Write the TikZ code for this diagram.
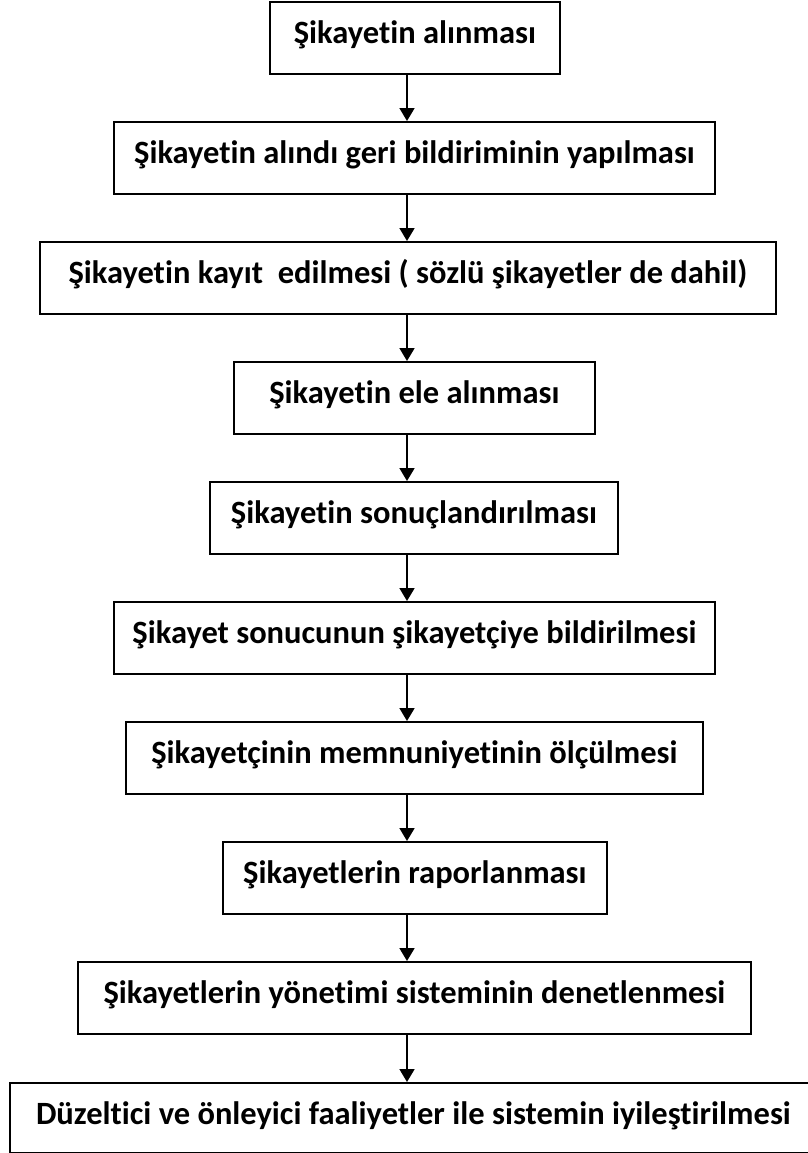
\documentclass[tikz,border=0pt]{standalone}
\usepackage{fontspec}
\setmainfont{Carlito}[RawFeature=-liga]
\usetikzlibrary{arrows.meta}
\begin{document}
\begin{tikzpicture}[x=1bp,y=-1bp,
  box/.style={draw=black, line width=1.8bp, rectangle, inner sep=0pt,
    text height=42bp, text depth=30bp, anchor=north west,
    font=\bfseries\fontsize{32.5bp}{38bp}\selectfont},
  arr/.style={line width=1.8bp, -{Triangle[length=13bp,width=15bp]}}]
\useasboundingbox (0,0) rectangle (808,1153);
\coordinate (ax) at (407,0);
\node[box, minimum width=290bp] (b1) at (269,1) {Şikayetin alınması};
\node[box, minimum width=601bp] (b2) at (113,121) {Şikayetin alındı geri bildiriminin yapılması};
\node[box, minimum width=736bp] (b3) at (39,241) {Şikayetin kayıt\ \ edilmesi ( sözlü şikayetler de dahil)};
\node[box, minimum width=361bp] (b4) at (233,361) {Şikayetin ele alınması};
\node[box, minimum width=408bp] (b5) at (209,481) {Şikayetin sonuçlandırılması};
\node[box, minimum width=601bp] (b6) at (113,601) {Şikayet sonucunun şikayetçiye bildirilmesi};
\node[box, minimum width=577bp] (b7) at (125,721) {Şikayetçinin memnuniyetinin ölçülmesi};
\node[box, minimum width=384bp] (b8) at (222,841) {Şikayetlerin raporlanması};
\node[box, minimum width=673bp] (b9) at (77,961) {Şikayetlerin yönetimi sisteminin denetlenmesi};
\node[box, minimum width=803bp, text depth=28bp] (b10) at (9,1082) {\hspace*{4bp}Düzeltici ve önleyici faaliyetler ile sistemin iyileştirilmesi};
\foreach \a/\b in {b1/b2,b2/b3,b3/b4,b4/b5,b5/b6,b6/b7,b7/b8,b8/b9,b9/b10}
  \draw[arr] (\a.south -| ax) -- (\b.north -| ax);
\end{tikzpicture}
\end{document}
